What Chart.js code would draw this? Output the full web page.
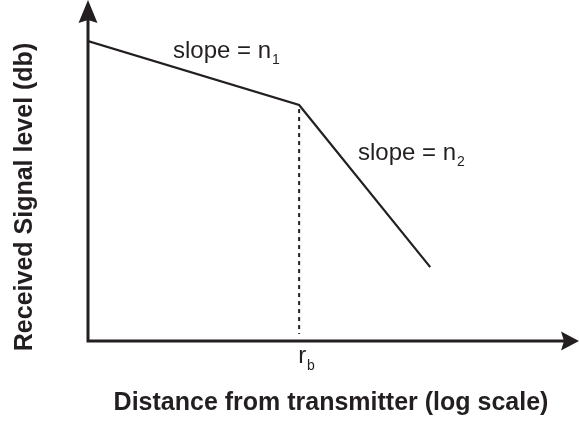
<!DOCTYPE html>
<html>
<head>
<meta charset="utf-8">
<script src="https://cdn.jsdelivr.net/npm/chart.js@4.4.1/dist/chart.umd.min.js"></script>
<style>
  html, body { margin: 0; padding: 0; background: #ffffff; }
  #wrap { width: 579px; height: 421px; }
</style>
</head>
<body>
<div id="wrap"><canvas id="c" width="579" height="421"></canvas></div>
<script>
// Two-slope path loss model: received level versus log distance
const distance = [0, 4.3, 6.97];          // log-distance positions (arbitrary units)
const level = [8.85, 6.96, 2.18];         // received signal level (arbitrary units)
const breakIndex = 1;                     // breakpoint r_b

const xTitle = 'Distance from transmitter (log scale)';
const yTitle = 'Received Signal level (db)';
const slopeLabels = [
  { text: 'slope = n', sub: '1' },
  { text: 'slope = n', sub: '2' }
];
const breakLabel = { text: 'r', sub: 'b' };

const INK = '#231f20';
const FONT = '"Liberation Sans", Arial, Helvetica, sans-serif';

const points = distance.map((d, i) => ({ x: d, y: level[i] }));

function textWithSub(ctx, main, sub, x, y, size, subSize, subDrop) {
  ctx.font = size + 'px ' + FONT;
  ctx.fillText(main, x, y);
  const w = ctx.measureText(main).width;
  ctx.font = subSize + 'px ' + FONT;
  ctx.fillText(sub, x + w + 1, y + subDrop);
}

const decorations = {
  id: 'decorations',
  beforeDatasetsDraw(chart) {
    const { ctx, scales: { x, y } } = chart;
    const x0 = x.getPixelForValue(0);
    const y0 = y.getPixelForValue(0);
    ctx.save();
    // breakpoint guide
    const bx = x.getPixelForValue(distance[breakIndex]);
    const by = y.getPixelForValue(level[breakIndex]);
    ctx.strokeStyle = INK;
    ctx.lineWidth = 2;
    ctx.setLineDash([4, 4]);
    ctx.beginPath();
    ctx.moveTo(bx, by + 4);
    ctx.lineTo(bx, y0 - 7);
    ctx.stroke();
    ctx.setLineDash([]);

    // axes
    ctx.lineWidth = 3;
    ctx.beginPath();
    ctx.moveTo(x0, y0 + 1.5);
    ctx.lineTo(x0, 20);
    ctx.moveTo(x0 - 1.5, y0);
    ctx.lineTo(565, y0);
    ctx.stroke();

    // arrowheads
    ctx.fillStyle = INK;
    ctx.beginPath();
    ctx.moveTo(x0, 0);
    ctx.lineTo(x0 + 9.5, 23);
    ctx.lineTo(x0, 20);
    ctx.lineTo(x0 - 9.5, 23);
    ctx.closePath();
    ctx.fill();
    ctx.beginPath();
    ctx.moveTo(579, y0);
    ctx.lineTo(561, y0 + 9.5);
    ctx.lineTo(564, y0);
    ctx.lineTo(561, y0 - 9.5);
    ctx.closePath();
    ctx.fill();
    ctx.restore();
  },
  afterDatasetsDraw(chart) {
    const { ctx, scales: { x, y } } = chart;
    const bx = x.getPixelForValue(distance[breakIndex]);
    ctx.save();
    ctx.fillStyle = INK;
    ctx.textBaseline = 'alphabetic';
    ctx.textAlign = 'left';

    textWithSub(ctx, slopeLabels[0].text, slopeLabels[0].sub, 173, 58, 24, 14, 6);
    textWithSub(ctx, slopeLabels[1].text, slopeLabels[1].sub, 358, 160, 24, 14, 6);
    textWithSub(ctx, breakLabel.text, breakLabel.sub, bx - 1, 363, 24, 14, 7);

    // axis titles
    ctx.font = 'bold 25px ' + FONT;
    ctx.textAlign = 'center';
    ctx.fillText(xTitle, 331, 410);
    ctx.translate(32, 197);
    ctx.rotate(-Math.PI / 2);
    ctx.fillText(yTitle, 0, 0);
    ctx.restore();
  }
};

new Chart(document.getElementById('c'), {
  type: 'line',
  data: {
    datasets: [{
      data: points,
      borderColor: INK,
      borderWidth: 2.2,
      pointRadius: 0,
      tension: 0,
      fill: false
    }]
  },
  options: {
    responsive: false,
    animation: false,
    layout: { padding: { left: 88, right: 0, top: 2, bottom: 80 } },
    plugins: { legend: { display: false }, tooltip: { enabled: false } },
    scales: {
      x: { type: 'linear', min: 0, max: 10, display: false },
      y: { type: 'linear', min: 0, max: 10, display: false }
    }
  },
  plugins: [decorations]
});
</script>
</body>
</html>
